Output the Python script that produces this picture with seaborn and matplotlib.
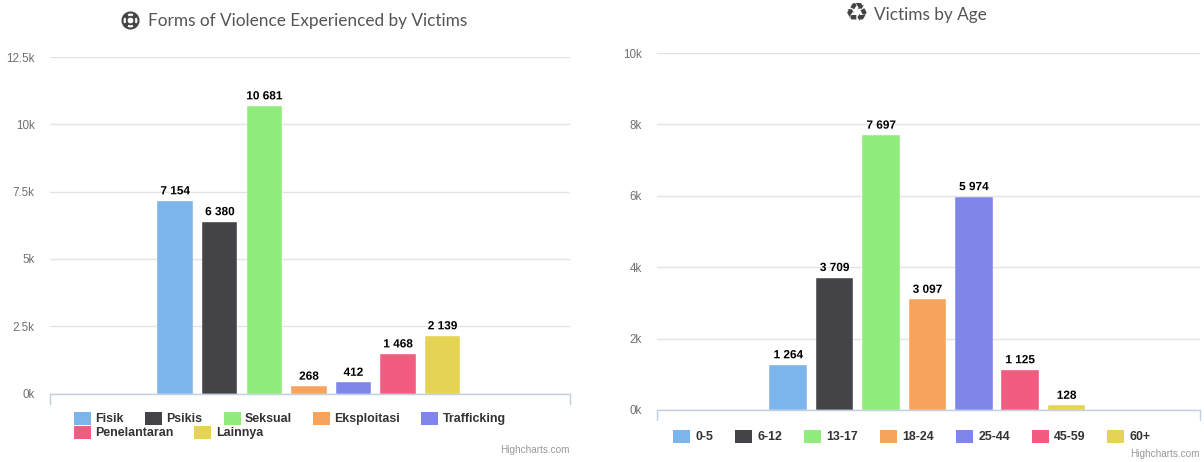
import matplotlib
matplotlib.use("Agg")
import matplotlib.pyplot as plt
import matplotlib.patheffects as pe
from matplotlib.patches import Circle, Rectangle, Wedge
import seaborn as sns

W, H = 1204, 462

form_names = ["Fisik", "Psikis", "Seksual", "Eksploitasi", "Trafficking", "Penelantaran", "Lainnya"]
form_values = [7154, 6380, 10681, 268, 412, 1468, 2139]
form_ticks = [0, 2500, 5000, 7500, 10000, 12500]
form_ticklabels = ["0k", "2.5k", "5k", "7.5k", "10k", "12.5k"]

age_names = ["0-5", "6-12", "13-17", "18-24", "25-44", "45-59", "60+"]
age_values = [1264, 3709, 7697, 3097, 5974, 1125, 128]
age_ticks = [0, 2000, 4000, 6000, 8000, 10000]
age_ticklabels = ["0k", "2k", "4k", "6k", "8k", "10k"]

colors = ["#7cb5ec", "#434348", "#90ed7d", "#f7a35c", "#8085e9", "#f15c80", "#e4d354"]

sns.set_theme(style="white")
plt.rcParams["font.family"] = ["Liberation Sans", "DejaVu Sans"]

fig = plt.figure(figsize=(W / 100, H / 100), dpi=100, facecolor="white")


def fx(px):
    return px / W


def fy(py):
    return 1 - py / H


def panel(x0, x1, y_top, y_base, names, values, ticks, ticklabels, first_c, step, bar_w, pad):
    ax = fig.add_axes([fx(x0), fy(y_base), fx(x1 - x0), (y_base - y_top) / H])
    sns.barplot(x=names, y=values, hue=names, palette=colors, dodge=False, legend=False,
                width=bar_w / step, saturation=1, edgecolor="white", linewidth=0.3, ax=ax)
    ax.set_xlim((x0 - first_c) / step, (x1 - first_c) / step)
    ax.set_ylim(ticks[0], ticks[-1])
    ax.set_yticks(ticks, ticklabels)
    ax.set_xticks([])
    ax.set_axisbelow(True)
    ax.grid(axis="y", color="#e3e3e3", linewidth=1)
    ax.grid(axis="x", visible=False)
    ax.tick_params(axis="y", length=0, pad=pad, labelsize=8.4, labelcolor="#707070")
    for side in ("top", "left", "right"):
        ax.spines[side].set_visible(False)
    ax.spines["bottom"].set_color("#c0d0e0")
    ax.spines["bottom"].set_linewidth(1)
    ax.patch.set_alpha(0)
    for i, v in enumerate(values):
        ax.annotate(f"{v:,}".replace(",", " "), (i, v), xytext=(0, 2.6), textcoords="offset points",
                    ha="center", va="bottom", fontsize=8.5, fontweight="bold", color="black",
                    path_effects=[pe.withStroke(linewidth=1.0, foreground="white")])
    # end ticks hanging below the axis line
    for px in (x0, x1 - 0.5):
        fig.add_artist(plt.Line2D([fx(px), fx(px)], [fy(y_base), fy(y_base + 10)],
                                  color="#c0d0e0", linewidth=1))
    return ax


def legend_row(items, y):
    for name, color, sx, tx in items:
        fig.add_artist(Rectangle((fx(sx), fy(y + 6.5)), 17 / W, 13 / H, transform=fig.transFigure,
                                 facecolor=color, edgecolor="none"))
        fig.text(fx(tx), fy(y + 0.6), name, fontsize=8.9, fontweight="bold", color="#333333",
                 ha="left", va="center")


panel(50, 570, 57, 393.5, form_names, form_values, form_ticks, form_ticklabels, 175.2, 44.55, 35.5, 11)
panel(657, 1200, 53, 410, age_names, age_values, age_ticks, age_ticklabels, 788.2, 46.4, 37.5, 11)

legend_row([(form_names[0], colors[0], 74, 95.5), (form_names[1], colors[1], 145, 166.5),
            (form_names[2], colors[2], 224, 245), (form_names[3], colors[3], 313, 334.5),
            (form_names[4], colors[4], 421, 442.5)], 418.5)
legend_row([(form_names[5], colors[5], 74, 95.5), (form_names[6], colors[6], 194, 216)], 432)
legend_row([(age_names[0], colors[0], 673, 695.5), (age_names[1], colors[1], 735, 757.5),
            (age_names[2], colors[2], 804, 826.5), (age_names[3], colors[3], 880, 902.5),
            (age_names[4], colors[4], 956, 978.5), (age_names[5], colors[5], 1032, 1054),
            (age_names[6], colors[6], 1107, 1129.5)], 436)

fig.text(fx(570), fy(450), "Highcharts.com", fontsize=7.2, color="#999999", ha="right", va="center")
fig.text(fx(1200), fy(454), "Highcharts.com", fontsize=7.2, color="#999999", ha="right", va="center")

fig.text(fx(148.5), fy(21), "Forms of Violence Experienced by Victims", fontsize=12.4,
         family="Lato", color="#555555", ha="left", va="center")
fig.text(fx(873.5), fy(15), "Victims by Age", fontsize=12.4, family="Lato", color="#555555",
         ha="left", va="center")

# Title icons: a life ring drawn from patches, a recycling sign from the font
overlay = fig.add_axes([0, 0, 1, 1], facecolor="none")
overlay.set_xlim(0, W)
overlay.set_ylim(H, 0)
overlay.axis("off")
cx, cy = 130.5, 20.5
overlay.add_patch(Circle((cx, cy), 8, facecolor="none", edgecolor="#444444", linewidth=1.5))
overlay.add_patch(Circle((cx, cy), 3.8, facecolor="none", edgecolor="#444444", linewidth=1.3))
for ang in (45, 135, 225, 315):
    overlay.add_patch(Wedge((cx, cy), 8, ang - 20, ang + 20, width=4.2, facecolor="#444444", edgecolor="none"))
overlay.text(857, 14, "\u267b", fontsize=19, family="DejaVu Sans", color="#444444", ha="center", va="center")

fig.savefig("out.png", dpi=100)
